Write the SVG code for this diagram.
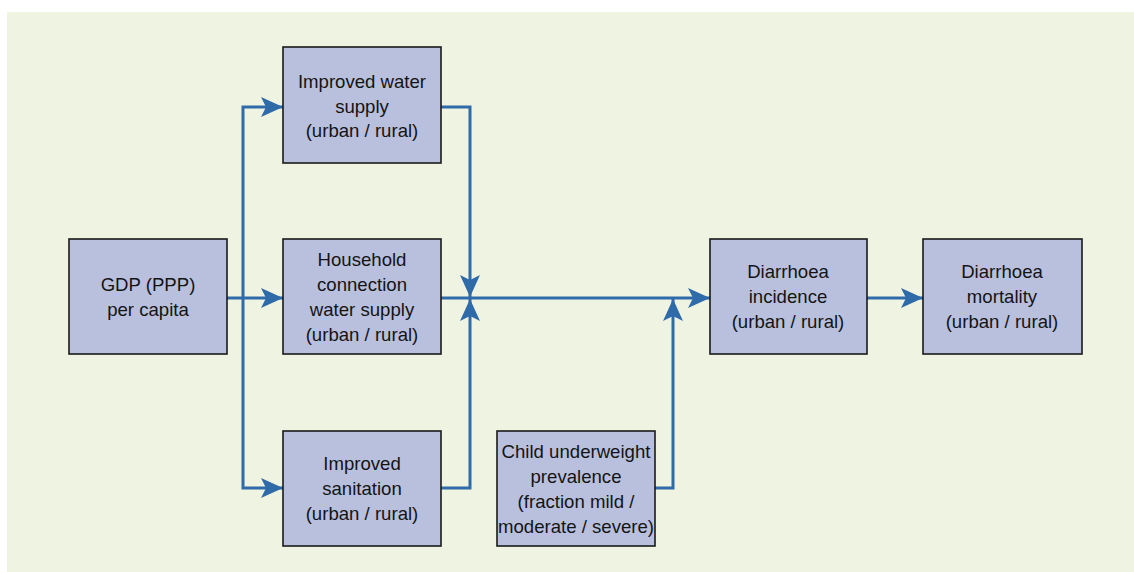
<svg xmlns="http://www.w3.org/2000/svg" width="1134" height="572" viewBox="0 0 1134 572">
  <style>
    .box { fill: #b9c0de; stroke: #1a1a1a; stroke-width: 1.6; }
    .lbl { font-family: "Liberation Sans", Arial, sans-serif; font-size: 18.6px; fill: #141414; text-anchor: middle; }
    .wire { fill: none; stroke: #2f6aa9; stroke-width: 3; }
  </style>
  <defs>
    <marker id="arrow" viewBox="0 0 22 20" refX="22" refY="10" markerWidth="22" markerHeight="20" markerUnits="userSpaceOnUse" orient="auto">
      <path d="M0,0 L22,10 L0,20 L5,10 Z" fill="#2f6aa9"/>
    </marker>
  </defs>
  <rect x="0" y="0" width="1134" height="572" fill="#ffffff"/>
  <rect x="7" y="12" width="1127" height="560" fill="#eff4e2"/>

  <g id="connectors">
    <!-- GDP fan-out -->
    <path class="wire" d="M227,298 L283,298" marker-end="url(#arrow)"/>
    <path class="wire" d="M243,298 L243,107 L283,107" marker-end="url(#arrow)"/>
    <path class="wire" d="M243,298 L243,488 L283,488" marker-end="url(#arrow)"/>
    <!-- merge into incidence -->
    <path class="wire" d="M441,107 L470,107 L470,297" marker-end="url(#arrow)"/>
    <path class="wire" d="M441,488 L470,488 L470,299" marker-end="url(#arrow)"/>
    <path class="wire" d="M441,298 L710,298" marker-end="url(#arrow)"/>
    <path class="wire" d="M655,488 L673,488 L673,299" marker-end="url(#arrow)"/>
    <!-- incidence to mortality -->
    <path class="wire" d="M867,298 L923,298" marker-end="url(#arrow)"/>
  </g>

  <g id="gdp">
    <rect class="box" x="69" y="239" width="158" height="115"/>
    <text class="lbl" x="148" y="291">GDP (PPP)</text>
    <text class="lbl" x="148" y="316">per capita</text>
  </g>

  <g id="water-supply">
    <rect class="box" x="283" y="47" width="158" height="116"/>
    <text class="lbl" x="362" y="88">Improved water</text>
    <text class="lbl" x="362" y="113">supply</text>
    <text class="lbl" x="362" y="137">(urban / rural)</text>
  </g>

  <g id="household-connection">
    <rect class="box" x="283" y="239" width="158" height="115"/>
    <text class="lbl" x="362" y="266">Household</text>
    <text class="lbl" x="362" y="291">connection</text>
    <text class="lbl" x="362" y="316">water supply</text>
    <text class="lbl" x="362" y="341">(urban / rural)</text>
  </g>

  <g id="sanitation">
    <rect class="box" x="283" y="431" width="158" height="115"/>
    <text class="lbl" x="362" y="470">Improved</text>
    <text class="lbl" x="362" y="495">sanitation</text>
    <text class="lbl" x="362" y="520">(urban / rural)</text>
  </g>

  <g id="underweight">
    <rect class="box" x="497" y="431" width="158" height="115"/>
    <text class="lbl" x="576" y="458">Child underweight</text>
    <text class="lbl" x="576" y="483">prevalence</text>
    <text class="lbl" x="576" y="508">(fraction mild /</text>
    <text class="lbl" x="576" y="533">moderate / severe)</text>
  </g>

  <g id="incidence">
    <rect class="box" x="710" y="239" width="157" height="115"/>
    <text class="lbl" x="788" y="278">Diarrhoea</text>
    <text class="lbl" x="788" y="303">incidence</text>
    <text class="lbl" x="788" y="328">(urban / rural)</text>
  </g>

  <g id="mortality">
    <rect class="box" x="923" y="239" width="159" height="115"/>
    <text class="lbl" x="1002" y="278">Diarrhoea</text>
    <text class="lbl" x="1002" y="303">mortality</text>
    <text class="lbl" x="1002" y="328">(urban / rural)</text>
  </g>
</svg>
